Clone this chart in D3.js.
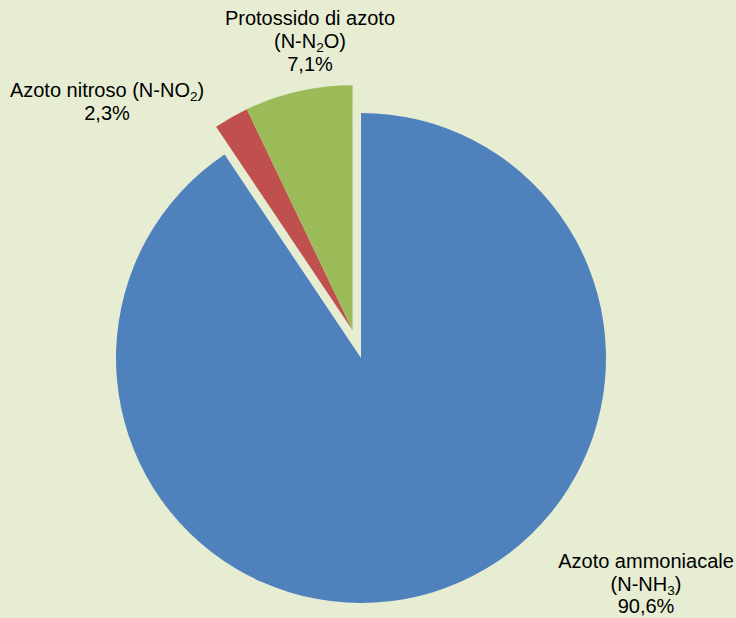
<!DOCTYPE html>
<html>
<head>
<meta charset="utf-8">
<script src="https://cdn.jsdelivr.net/npm/d3@7/dist/d3.min.js"></script>
<style>
  html, body { margin: 0; padding: 0; background: #E6EDD3; }
  svg { display: block; }
  text { font-family: "Liberation Sans", Arial, sans-serif; fill: #000; }
</style>
</head>
<body>
<svg id="chart" width="736" height="618"></svg>
<script>
// chart values
var categories = ["Azoto ammoniacale", "Azoto nitroso", "Protossido di azoto"];
var formulaHead = ["(N-NH", "(N-NO", "(N-N"];
var formulaSub = ["3", "2", "2"];
var formulaTail = [")", ")", "O)"];
var values = [90.6, 2.3, 7.1];
var valueLabels = ["90,6%", "2,3%", "7,1%"];
var exploded = [false, true, true];
var colors = ["#4F81BD", "#C0504D", "#9BBB59"];

var w = 736, h = 618;
var cx = 361, cy = 358;
var radius = 245;
var explodeDist = 29;
var fs = 20, subFs = 13.5;

var svg = d3.select('#chart');
svg.append('rect').attr('width', w).attr('height', h).attr('fill', '#E6EDD3');

var data = values.map(function(v, i) {
    return {name: categories[i], value: v, idx: i};
});

var pie = d3.pie().sort(null).value(function(d) { return d.value; });
var arcs = pie(data);
var arc = d3.arc().innerRadius(0).outerRadius(radius);

// exploded slices move together along their combined middle angle
var exArcs = arcs.filter(function(a) { return exploded[a.data.idx]; });
var midAngle = (d3.min(exArcs, function(a) { return a.startAngle; }) +
                d3.max(exArcs, function(a) { return a.endAngle; })) / 2;
var ex = Math.sin(midAngle) * explodeDist;
var ey = -Math.cos(midAngle) * explodeDist;

var g = svg.append('g').attr('transform', 'translate(' + cx + ',' + cy + ')');
g.selectAll('path')
  .data(arcs)
  .enter()
  .append('path')
    .attr('d', arc)
    .attr('fill', function(d) { return colors[d.data.idx]; })
    .attr('transform', function(d) {
        return exploded[d.data.idx] ? 'translate(' + ex + ',' + ey + ')' : null;
    });

// label layout: x, first baseline, line height, formula on first line?
var labelPos = [
    {x: 646, y: 568, lh: 22.5, inline: false},
    {x: 107, y: 97, lh: 23, inline: true},
    {x: 310, y: 25, lh: 23, inline: false}
];

function addFormula(t, i) {
    t.append('tspan').text(formulaHead[i]);
    t.append('tspan').attr('font-size', subFs).attr('dy', 4).text(formulaSub[i]);
    t.append('tspan').attr('dy', -4).text(formulaTail[i]);
}

labelPos.forEach(function(p, i) {
    var line = 0;
    var t1 = svg.append('text').attr('x', p.x).attr('y', p.y)
        .attr('text-anchor', 'middle').attr('font-size', fs);
    t1.append('tspan').text(categories[i] + (p.inline ? ' ' : ''));
    if (p.inline) {
        addFormula(t1, i);
    } else {
        line++;
        var t2 = svg.append('text').attr('x', p.x).attr('y', p.y + line * p.lh)
            .attr('text-anchor', 'middle').attr('font-size', fs);
        addFormula(t2, i);
    }
    line++;
    svg.append('text').attr('x', p.x).attr('y', p.y + line * p.lh)
        .attr('text-anchor', 'middle').attr('font-size', fs)
        .text(valueLabels[i]);
});
</script>
</body>
</html>
